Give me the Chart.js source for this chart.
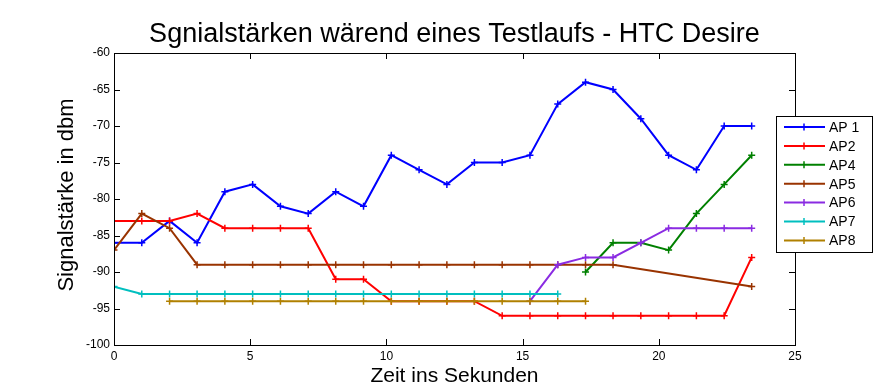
<!DOCTYPE html>
<html lang="de">
<head>
    <meta charset="UTF-8">
    <title>Signalstärken HTC Desire</title>
    <script src="https://cdn.jsdelivr.net/npm/chart.js"></script>
    <style>
        html, body { margin: 0; padding: 0; background: #fff; }
        #wrap { width: 879px; height: 392px; }
    </style>
</head>
<body>
    <div id="wrap"><canvas id="signalChart" width="879" height="392"></canvas></div>

    <script>
        // Zeitpunkte (Sekunden)
        const times = [0, 1.02, 2.04, 3.05, 4.07, 5.09, 6.11, 7.13, 8.14, 9.16, 10.18, 11.2,
                       12.22, 13.23, 14.25, 15.27, 16.29, 17.31, 18.32, 19.34, 20.36, 21.38, 22.4, 23.41];

        const labels = ['AP 1', 'AP2', 'AP4', 'AP5', 'AP6', 'AP7', 'AP8'];
        const colors = ['#0000ff', '#ff0000', '#008000', '#993300', '#8a2be2', '#00bfbf', '#b08000'];

        // Signalstärke in dbm, null = kein Messwert
        const ap1 = [-86, -86, -83, -86, -79, -78, -81, -82, -79, -81, -74, -76, -78, -75, -75, -74, -67, -64, -65, -69, -74, -76, -70, -70];
        const ap2 = [-83, -83, -83, -82, -84, -84, -84, -84, -91, -91, -94, -94, -94, -94, -96, -96, -96, -96, -96, -96, -96, -96, -96, -88];
        const ap4 = [null, null, null, null, null, null, null, null, null, null, null, null, null, null, null, null, null, -90, -86, -86, -87, -82, -78, -74];
        const ap5 = [-87, -82, -84, -89, -89, -89, -89, -89, -89, -89, -89, -89, -89, -89, -89, -89, -89, -89, -89, null, null, null, null, -92];
        const ap6 = [null, null, null, null, null, null, null, null, null, null, null, null, null, null, null, -94, -89, -88, -88, -86, -84, -84, -84, -84];
        const ap7 = [-92, -93, -93, -93, -93, -93, -93, -93, -93, -93, -93, -93, -93, -93, -93, -93, -93, null, null, null, null, null, null, null];
        const ap8 = [null, null, -94, -94, -94, -94, -94, -94, -94, -94, -94, -94, -94, -94, -94, -94, -94, -94, null, null, null, null, null, null];

        const yTicks = [-100, -95, -90, -85, -80, -75, -70, -65, -60];
        const xTicks = [0, 5, 10, 15, 20, 25];

        const chartTitle = 'Sgnialstärken wärend eines Testlaufs - HTC Desire';
        const yTitle = 'Signalstärke in dbm';
        const series = [ap1, ap2, ap4, ap5, ap6, ap7, ap8];
        const FONT = '"Liberation Sans", Arial, Helvetica, sans-serif';

        function toPoints(values) {
            const pts = [];
            values.forEach((v, i) => {
                if (v !== null) pts.push({ x: times[i], y: v });
            });
            return pts;
        }

        const datasets = series.map((values, i) => ({
            label: labels[i],
            data: toPoints(values),
            borderColor: colors[i],
            backgroundColor: colors[i],
            borderWidth: 2,
            pointStyle: 'cross',
            pointRadius: 3.5,
            pointBorderWidth: 1.5,
            pointHoverRadius: 3.5,
            tension: 0,
            fill: false,
            order: series.length - 1 - i   // later series drawn on top
        }));

        // box around the axes with inward ticks, plus title and y label
        const axesBox = {
            id: 'axesBox',
            afterDatasetsDraw(chart) {
                const { ctx, chartArea: a, scales } = chart;
                ctx.save();
                ctx.strokeStyle = '#000';
                ctx.lineWidth = 1;
                ctx.strokeRect(Math.round(a.left) + 0.5, Math.round(a.top) + 0.5,
                               Math.round(a.right - a.left), Math.round(a.bottom - a.top));
                const len = 6;
                ctx.beginPath();
                xTicks.forEach(t => {
                    const px = Math.round(scales.x.getPixelForValue(t)) + 0.5;
                    ctx.moveTo(px, a.bottom); ctx.lineTo(px, a.bottom - len);
                    ctx.moveTo(px, a.top); ctx.lineTo(px, a.top + len);
                });
                yTicks.forEach(t => {
                    const py = Math.round(scales.y.getPixelForValue(t)) + 0.5;
                    ctx.moveTo(a.left, py); ctx.lineTo(a.left + len, py);
                    ctx.moveTo(a.right, py); ctx.lineTo(a.right - len, py);
                });
                ctx.stroke();

                ctx.fillStyle = '#000';
                ctx.font = '27px ' + FONT;
                ctx.textAlign = 'center';
                ctx.textBaseline = 'alphabetic';
                ctx.fillText(chartTitle, (a.left + a.right) / 2, 42);

                ctx.translate(67, 195);
                ctx.rotate(-Math.PI / 2);
                ctx.font = '22px ' + FONT;
                ctx.textBaseline = 'middle';
                ctx.fillText(yTitle, 0, 0);
                ctx.restore();
            }
        };

        // legend box that overlaps the right edge of the axes
        const boxLegend = {
            id: 'boxLegend',
            afterDraw(chart) {
                const ctx = chart.ctx;
                const bx = 776.5, by = 116.5, bw = 96, bh = 136;
                ctx.save();
                ctx.fillStyle = '#fff';
                ctx.fillRect(bx, by, bw, bh);
                ctx.strokeStyle = '#000';
                ctx.lineWidth = 1;
                ctx.strokeRect(bx, by, bw, bh);
                ctx.font = '14px ' + FONT;
                ctx.textBaseline = 'middle';
                labels.forEach((lab, i) => {
                    const y = 127 + i * 18.9;
                    ctx.strokeStyle = colors[i];
                    ctx.lineWidth = 2;
                    ctx.beginPath();
                    ctx.moveTo(784, y); ctx.lineTo(825, y);
                    ctx.stroke();
                    ctx.lineWidth = 1.5;
                    ctx.beginPath();
                    ctx.moveTo(804, y - 3.5); ctx.lineTo(804, y + 3.5);
                    ctx.stroke();
                    ctx.fillStyle = '#000';
                    ctx.fillText(lab, 829, y + 1);
                });
                ctx.restore();
            }
        };

        new Chart(document.getElementById('signalChart'), {
            type: 'line',
            data: { datasets: datasets },
            plugins: [axesBox, boxLegend],
            options: {
                responsive: false,
                animation: false,
                events: [],
                layout: { padding: { left: 0, right: 84, top: 53, bottom: 0 } },
                plugins: {
                    legend: { display: false },
                    tooltip: { enabled: false },
                    title: { display: false }
                },
                scales: {
                    x: {
                        type: 'linear',
                        min: 0,
                        max: 25,
                        afterFit: s => { s.height = 47; },
                        afterBuildTicks: s => { s.ticks = xTicks.map(v => ({ value: v })); },
                        grid: { display: false, drawTicks: false },
                        border: { display: false },
                        ticks: { color: '#000', padding: 4, font: { family: FONT, size: 12 } },
                        title: {
                            display: true,
                            text: 'Zeit ins Sekunden',
                            color: '#000',
                            font: { family: FONT, size: 21, lineHeight: 1.2 },
                            padding: { top: 0, bottom: 3 }
                        }
                    },
                    y: {
                        min: -100,
                        max: -60,
                        afterFit: s => { s.width = 114; },
                        afterBuildTicks: s => { s.ticks = yTicks.map(v => ({ value: v })); },
                        grid: { display: false, drawTicks: false },
                        border: { display: false },
                        ticks: { color: '#000', padding: 4, font: { family: FONT, size: 12 } },
                        title: { display: false }
                    }
                }
            }
        });
    </script>
</body>
</html>
